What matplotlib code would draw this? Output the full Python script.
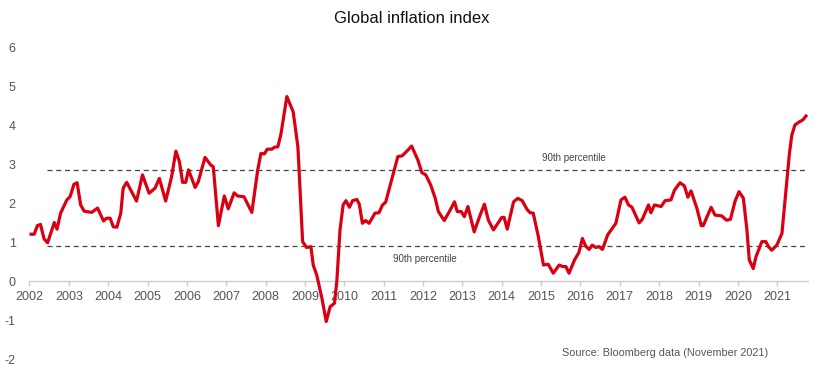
import matplotlib
matplotlib.use("Agg")
import matplotlib.pyplot as plt

# Data: decimal year, index value
years = [2002.04, 2002.12, 2002.20, 2002.28, 2002.37, 2002.46, 2002.63, 2002.70, 2002.79, 2002.95,
         2003.03, 2003.13, 2003.21, 2003.30, 2003.39, 2003.58, 2003.73, 2003.88, 2003.96,
         2004.05, 2004.13, 2004.22, 2004.32, 2004.38, 2004.47, 2004.72, 2004.87,
         2005.04, 2005.19, 2005.30, 2005.46, 2005.61, 2005.72, 2005.81, 2005.89, 2005.97,
         2006.04, 2006.21, 2006.29, 2006.46, 2006.61, 2006.67, 2006.80, 2006.95,
         2007.05, 2007.20, 2007.29, 2007.45, 2007.65, 2007.80, 2007.88, 2007.97,
         2008.04, 2008.16, 2008.22, 2008.31, 2008.39, 2008.54, 2008.70, 2008.82, 2008.85, 2008.94,
         2009.04, 2009.15, 2009.21, 2009.30, 2009.43, 2009.54, 2009.64, 2009.75, 2009.81, 2009.89, 2009.97,
         2010.04, 2010.13, 2010.21, 2010.32, 2010.38, 2010.46, 2010.54, 2010.63, 2010.78, 2010.88, 2010.97,
         2011.05, 2011.20, 2011.36, 2011.47, 2011.59, 2011.71, 2011.87, 2011.97,
         2012.07, 2012.20, 2012.31, 2012.39, 2012.54, 2012.69, 2012.80, 2012.87, 2012.97,
         2013.05, 2013.14, 2013.30, 2013.45, 2013.56, 2013.66, 2013.79,
         2014.00, 2014.06, 2014.14, 2014.30, 2014.41, 2014.52, 2014.64, 2014.72, 2014.80, 2014.93,
         2015.06, 2015.18, 2015.31, 2015.46, 2015.55, 2015.63, 2015.71, 2015.85, 2015.96,
         2016.05, 2016.13, 2016.22, 2016.30, 2016.39, 2016.47, 2016.56, 2016.69, 2016.81, 2016.90,
         2017.03, 2017.13, 2017.22, 2017.31, 2017.49, 2017.57, 2017.73, 2017.79, 2017.88,
         2018.05, 2018.15, 2018.30, 2018.39, 2018.53, 2018.64, 2018.73, 2018.81, 2018.96,
         2019.07, 2019.12, 2019.32, 2019.42, 2019.59, 2019.71, 2019.81, 2019.93,
         2020.03, 2020.14, 2020.23, 2020.29, 2020.39, 2020.46, 2020.61, 2020.71, 2020.78, 2020.86, 2020.99,
         2021.12, 2021.24, 2021.31, 2021.37, 2021.45, 2021.56, 2021.65, 2021.73]
values = [1.20, 1.20, 1.42, 1.45, 1.08, 0.98, 1.50, 1.33, 1.74, 2.08,
          2.16, 2.48, 2.52, 1.95, 1.79, 1.76, 1.87, 1.54, 1.61,
          1.61, 1.39, 1.38, 1.74, 2.38, 2.53, 2.05, 2.72,
          2.25, 2.38, 2.63, 2.05, 2.67, 3.33, 3.06, 2.53, 2.53,
          2.85, 2.40, 2.55, 3.17, 2.97, 2.93, 1.42, 2.18,
          1.85, 2.26, 2.18, 2.16, 1.76, 2.85, 3.27, 3.26,
          3.38, 3.38, 3.43, 3.44, 3.77, 4.73, 4.34, 3.44, 2.85, 1.01,
          0.86, 0.88, 0.41, 0.15, -0.44, -1.04, -0.66, -0.57, 0.00, 1.31, 1.95,
          2.06, 1.89, 2.06, 2.09, 1.97, 1.48, 1.55, 1.48, 1.74, 1.75, 1.95,
          2.02, 2.59, 3.19, 3.21, 3.33, 3.46, 3.10, 2.78,
          2.72, 2.45, 2.12, 1.78, 1.55, 1.82, 2.03, 1.78, 1.78,
          1.65, 1.91, 1.26, 1.69, 1.97, 1.56, 1.31,
          1.63, 1.63, 1.33, 2.03, 2.12, 2.06, 1.84, 1.75, 1.74, 1.14,
          0.41, 0.43, 0.20, 0.41, 0.37, 0.37, 0.20, 0.54, 0.73,
          1.09, 0.90, 0.81, 0.92, 0.86, 0.88, 0.81, 1.18, 1.35, 1.48,
          2.08, 2.15, 1.95, 1.89, 1.49, 1.58, 1.95, 1.75, 1.95,
          1.91, 2.06, 2.08, 2.33, 2.52, 2.44, 2.15, 2.31, 1.86,
          1.42, 1.42, 1.89, 1.69, 1.67, 1.56, 1.58, 2.05,
          2.29, 2.12, 1.31, 0.54, 0.32, 0.62, 1.01, 1.01, 0.88, 0.79, 0.92,
          1.22, 2.50, 3.27, 3.74, 4.00, 4.08, 4.13, 4.23]

upper_pct = 2.84
lower_pct = 0.90
pct_start = 2002.45
x_ticks = list(range(2002, 2022))
y_ticks = list(range(-2, 7))

plt.rcParams['font.family'] = ['Liberation Sans', 'DejaVu Sans']

fig = plt.figure(figsize=(8.17, 3.69), dpi=100)
ax = fig.add_axes([0.0361, 0.0271, 0.9523, 0.8455])

ax.plot(years, values, color='#db0011', lw=2.3, solid_joinstyle='round', zorder=3)

x_end = 2021.77
ax.plot([pct_start, x_end], [upper_pct, upper_pct], color='#444444', lw=0.9,
        dashes=(4, 3), zorder=2)
ax.plot([pct_start, x_end], [lower_pct, lower_pct], color='#444444', lw=0.9,
        dashes=(4, 3), zorder=2)

ax.text(2015.84, 3.15, '90th percentile', fontsize=7, color='#444444',
        ha='center', va='center')
ax.text(2012.04, 0.56, '90th percentile', fontsize=7, color='#444444',
        ha='center', va='center')

ax.set_xlim(2002.0, x_end)
ax.set_ylim(-2, 6)
ax.set_xticks(x_ticks)
ax.set_yticks(y_ticks)
ax.set_yticklabels([str(v) for v in y_ticks])

for s in ['top', 'right', 'left']:
    ax.spines[s].set_visible(False)
ax.spines['bottom'].set_position(('data', 0))
ax.spines['bottom'].set_color('#cccccc')
ax.spines['bottom'].set_linewidth(1.0)

ax.tick_params(axis='x', direction='out', length=3.5, width=1.0, color='#cccccc',
               labelsize=9, labelcolor='#555555', pad=4)
ax.tick_params(axis='y', length=0, labelsize=9, labelcolor='#555555', pad=10)
ax.set_facecolor('none')

fig.text(0.504, 0.951, 'Global inflation index', fontsize=12, color='#111111',
         ha='center', va='center')
fig.text(0.6875, 0.044, 'Source: Bloomberg data (November 2021)', fontsize=7.8,
         color='#555555', ha='left', va='center')

fig.savefig('out.png', dpi=100)
